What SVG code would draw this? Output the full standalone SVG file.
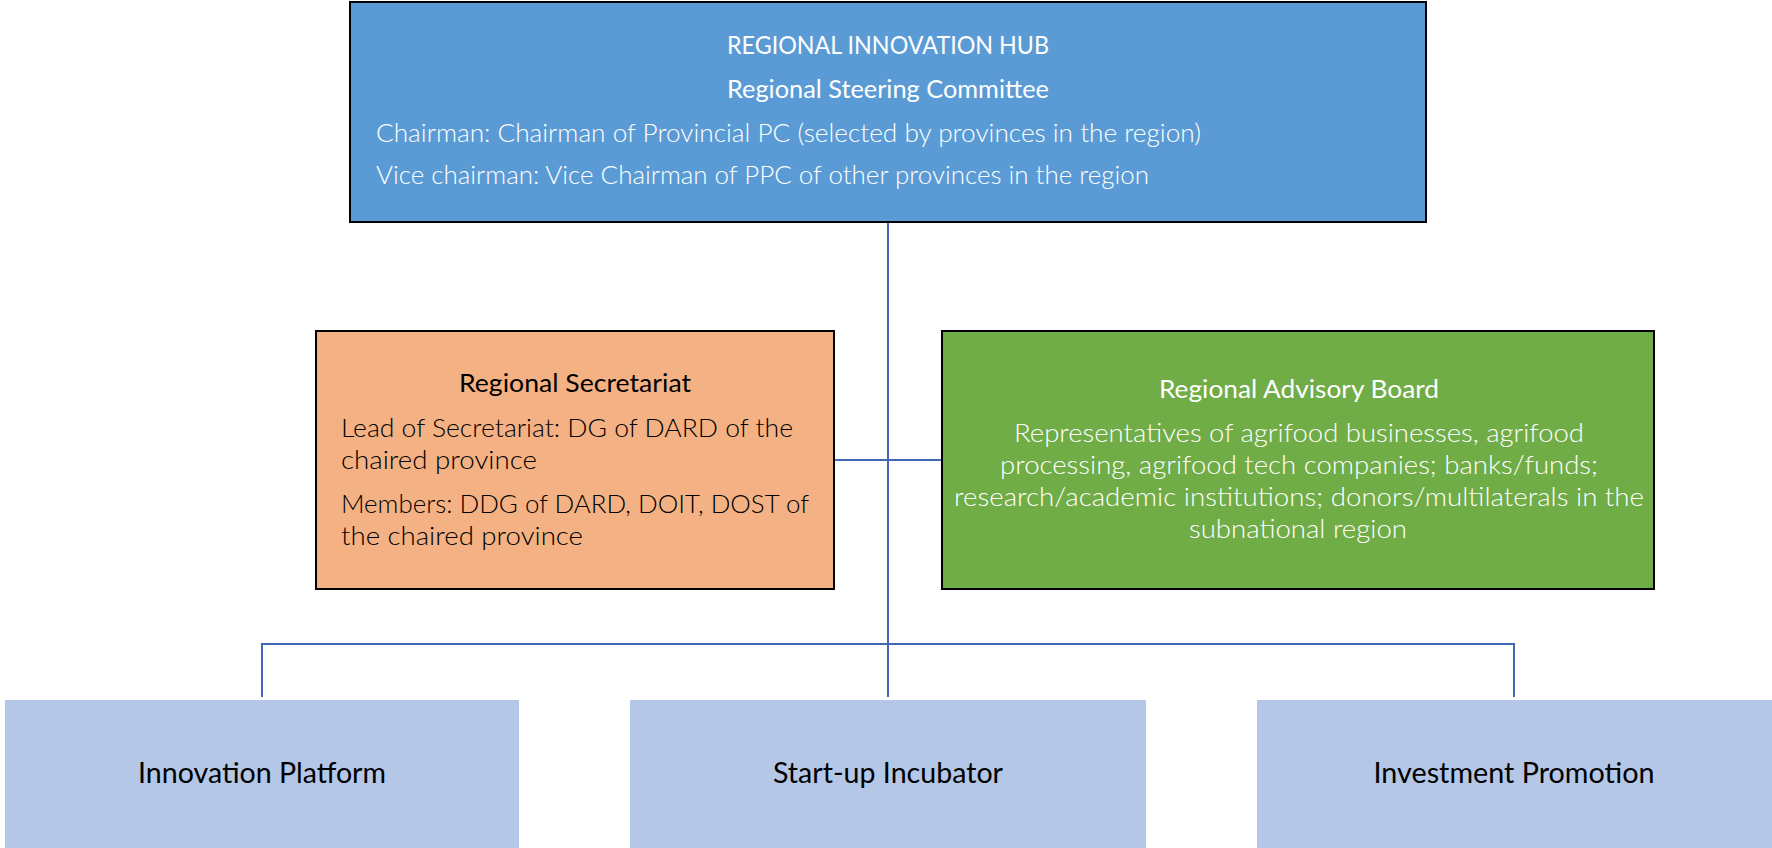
<svg xmlns="http://www.w3.org/2000/svg" width="1772" height="848" viewBox="0 0 1772 848">
<style>
.t{font-family:Lato,"Liberation Sans",sans-serif;font-size:25px}
.h{font-weight:400}
.b{font-weight:300}
.w{fill:#ffffff}
.k{fill:#000000}
.c{text-anchor:middle}
.lbl{font-family:Lato,"Liberation Sans",sans-serif;font-size:28px;fill:#000;text-anchor:middle}
.conn{stroke:#4168B4;stroke-width:2;fill:none}
</style>
<rect width="1772" height="848" fill="#ffffff"/>
<g id="connectors">
<line class="conn" x1="888" y1="222" x2="888" y2="697"/>
<line class="conn" x1="834" y1="460" x2="942" y2="460"/>
<polyline class="conn" points="262,697 262,644 1514,644 1514,697"/>
</g>
<g id="hub">
<rect x="350" y="2" width="1076" height="220" fill="#5B9BD5" stroke="#000" stroke-width="2"/>
<text class="t h w c" x="888" y="54" textLength="322" lengthAdjust="spacingAndGlyphs">REGIONAL INNOVATION HUB</text>
<text class="t h w c" x="888" y="98" textLength="322" lengthAdjust="spacingAndGlyphs">Regional Steering Committee</text>
<text class="t b w" x="376" y="142" textLength="825" lengthAdjust="spacingAndGlyphs">Chairman: Chairman of Provincial PC (selected by provinces in the region)</text>
<text class="t b w" x="376" y="184" textLength="773" lengthAdjust="spacingAndGlyphs">Vice chairman: Vice Chairman of PPC of other provinces in the region</text>
</g>
<g id="secretariat">
<rect x="316" y="331" width="518" height="258" fill="#F4B183" stroke="#000" stroke-width="2"/>
<text class="t h k c" x="575" y="392" textLength="232" lengthAdjust="spacingAndGlyphs">Regional Secretariat</text>
<text class="t b k" x="341" y="437" textLength="452" lengthAdjust="spacingAndGlyphs">Lead of Secretariat: DG of DARD of the</text>
<text class="t b k" x="341" y="469" textLength="196" lengthAdjust="spacingAndGlyphs">chaired province</text>
<text class="t b k" x="341" y="513" textLength="468" lengthAdjust="spacingAndGlyphs">Members: DDG of DARD, DOIT, DOST of</text>
<text class="t b k" x="341" y="545" textLength="242" lengthAdjust="spacingAndGlyphs">the chaired province</text>
</g>
<g id="advisory">
<rect x="942" y="331" width="712" height="258" fill="#70AD47" stroke="#000" stroke-width="2"/>
<text class="t h w c" x="1299" y="398" textLength="280" lengthAdjust="spacingAndGlyphs">Regional Advisory Board</text>
<text class="t b w c" x="1299" y="442" textLength="570" lengthAdjust="spacingAndGlyphs">Representatives of agrifood businesses, agrifood</text>
<text class="t b w c" x="1299" y="474" textLength="598" lengthAdjust="spacingAndGlyphs">processing, agrifood tech companies; banks/funds;</text>
<text class="t b w c" x="1299" y="506" textLength="690" lengthAdjust="spacingAndGlyphs">research/academic institutions; donors/multilaterals in the</text>
<text class="t b w c" x="1298" y="538" textLength="218" lengthAdjust="spacingAndGlyphs">subnational region</text>
</g>
<g id="innovation-platform">
<rect x="5" y="700" width="514" height="148" fill="#B4C7E7"/>
<text class="lbl" x="262" y="783" textLength="248" lengthAdjust="spacingAndGlyphs">Innovation Platform</text>
</g>
<g id="startup-incubator">
<rect x="630" y="700" width="516" height="148" fill="#B4C7E7"/>
<text class="lbl" x="888" y="783" textLength="230" lengthAdjust="spacingAndGlyphs">Start-up Incubator</text>
</g>
<g id="investment-promotion">
<rect x="1257" y="700" width="515" height="148" fill="#B4C7E7"/>
<text class="lbl" x="1514" y="783" textLength="281" lengthAdjust="spacingAndGlyphs">Investment Promotion</text>
</g>
</svg>
